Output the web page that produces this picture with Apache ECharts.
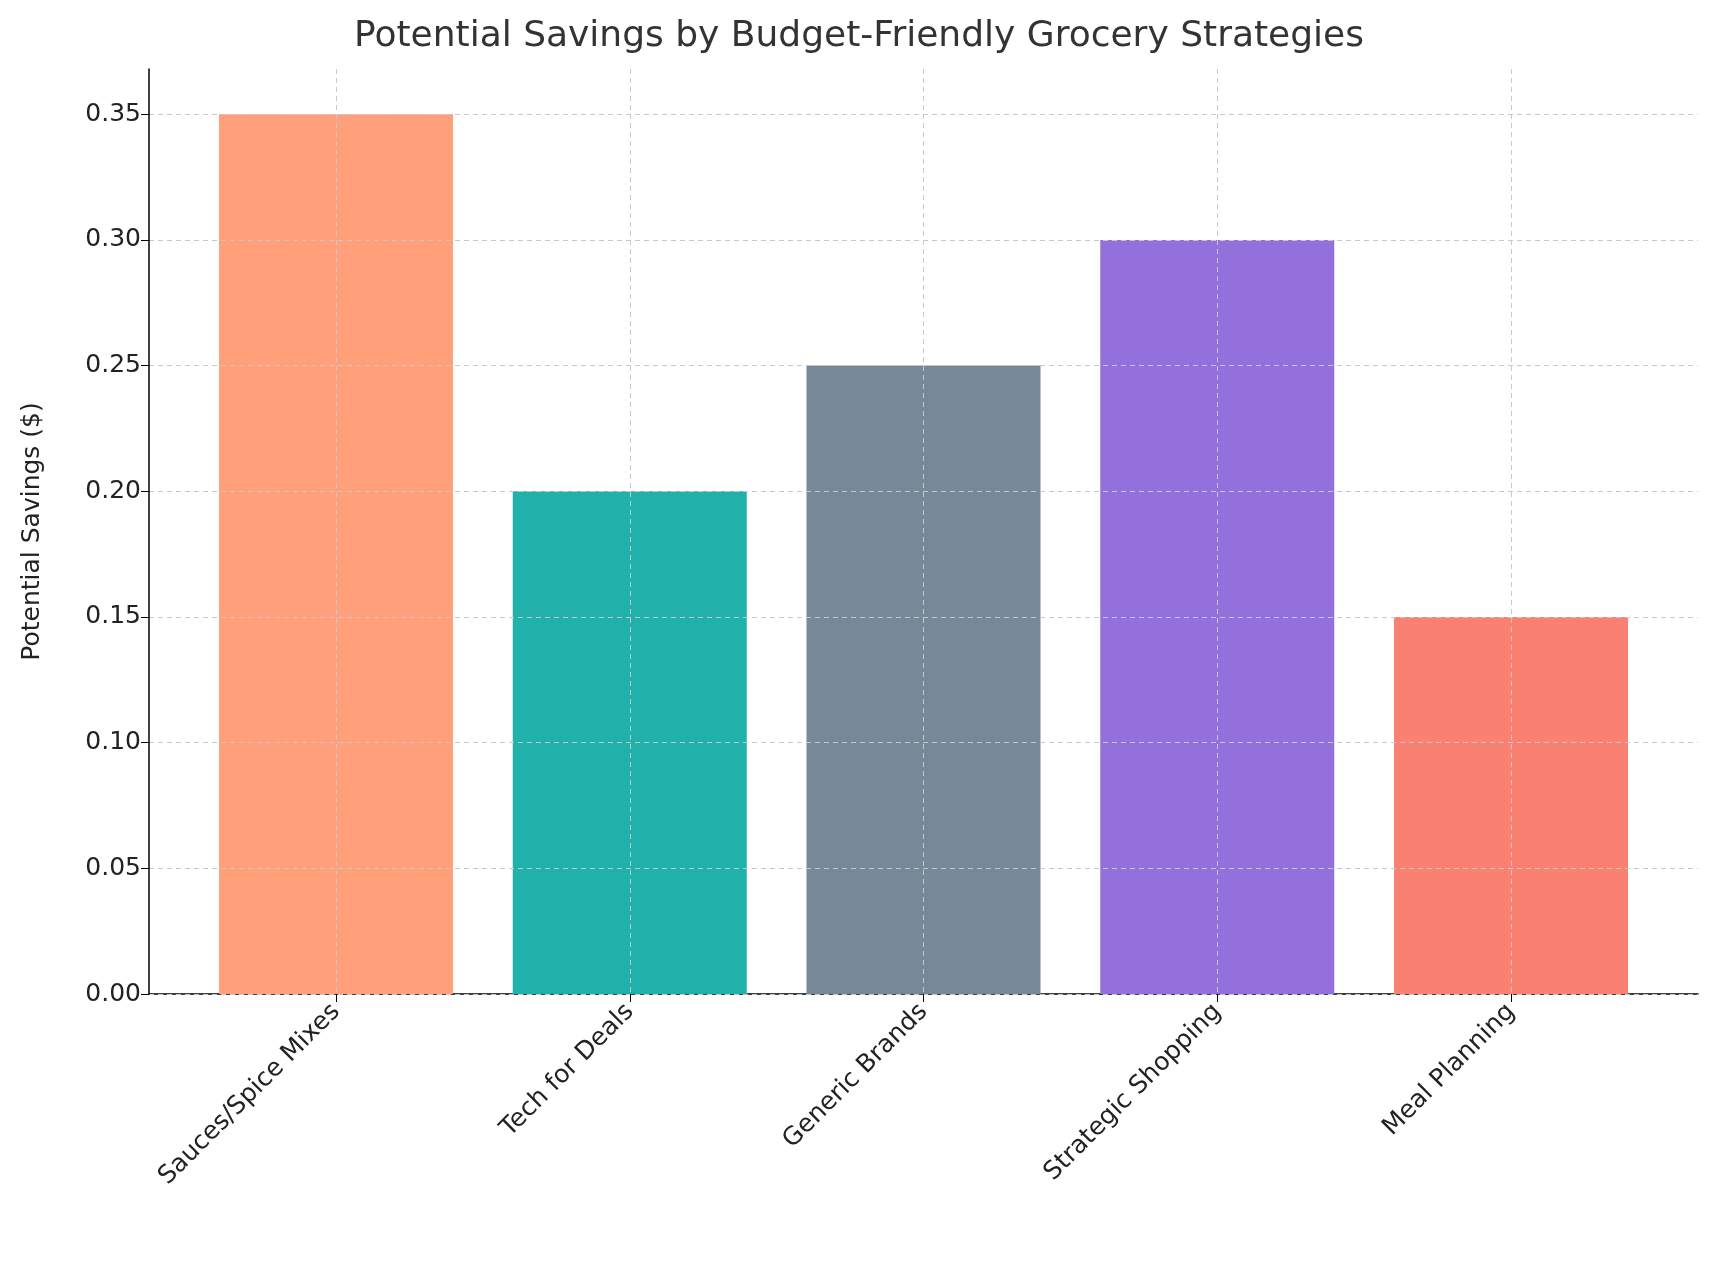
<!DOCTYPE html>
<html>
<head>
<meta charset="utf-8">
<script src="https://cdn.jsdelivr.net/npm/echarts@6/dist/echarts.min.js"></script>
<style>html,body{margin:0;padding:0;background:#fff}#chart{width:1718px;height:1278px}</style>
</head>
<body>
<div id="chart"></div>
<script>
// chart data
var categories = ['Sauces/Spice Mixes', 'Tech for Deals', 'Generic Brands', 'Strategic Shopping', 'Meal Planning'];
var savings = [0.35, 0.20, 0.25, 0.30, 0.15];
var barColors = ['#FFA07A', '#20B2AA', '#778899', '#9370DB', '#FA8072'];

var myChart = echarts.init(document.getElementById('chart'), null, { renderer: 'canvas' });
var font = 'DejaVu Sans, sans-serif';
var gridLine = { show: true, lineStyle: { color: '#c8c8c8', type: [5, 4], width: 1 } };

myChart.setOption({
    animation: false,
    title: {
        text: 'Potential Savings by Budget-Friendly Grocery Strategies',
        left: 'center',
        top: 14,
        textStyle: { color: '#333', fontFamily: font, fontSize: 36, fontWeight: 'normal' }
    },
    grid: [
        // full plot area: y axis and x axis line
        { left: 149, right: 20, top: 69, bottom: 284 },
        // inner area: ticks at category centres
        { left: 336, right: 207, top: 69, bottom: 284 }
    ],
    xAxis: [
        {
            gridIndex: 0, type: 'value', min: 0, max: 1,
            axisLine: { show: true, lineStyle: { color: '#000', width: 1.5 } },
            axisTick: { show: false }, axisLabel: { show: false }, splitLine: { show: false }
        },
        {
            gridIndex: 1, type: 'category', data: categories, boundaryGap: false, z: 5,
            axisLine: { show: false },
            axisTick: { show: true, alignWithLabel: true, length: 8, lineStyle: { color: '#000' } },
            axisLabel: { rotate: 45, color: '#222', fontFamily: font, fontSize: 25, margin: 14, interval: 0 },
            splitLine: Object.assign({ interval: 0 }, gridLine)
        }
    ],
    yAxis: [
        {
            gridIndex: 0, type: 'value', min: 0, max: 0.368, interval: 0.05, z: 5,
            name: 'Potential Savings ($)',
            nameLocation: 'middle',
            nameGap: 104,
            nameTextStyle: { color: '#222', fontFamily: font, fontSize: 25 },
            axisLine: { show: true, lineStyle: { color: '#000', width: 1.5 } },
            axisTick: { show: true, length: 8, lineStyle: { color: '#000' } },
            axisLabel: {
                color: '#222', fontFamily: font, fontSize: 25, showMaxLabel: false,
                formatter: function (v) { return v.toFixed(2); }
            },
            splitLine: Object.assign({ showMaxLine: false }, gridLine)
        },
        {
            gridIndex: 1, type: 'value', min: 0, max: 0.368, interval: 0.05,
            axisLine: { show: false }, axisTick: { show: false },
            axisLabel: { show: false }, splitLine: { show: false }
        }
    ],
    series: [{
        type: 'bar',
        xAxisIndex: 1,
        yAxisIndex: 1,
        barWidth: 234,
        clip: false,
        z: 2,
        data: savings.map(function (v, i) {
            return { value: v, itemStyle: { color: barColors[i] } };
        })
    }]
});
</script>
</body>
</html>
